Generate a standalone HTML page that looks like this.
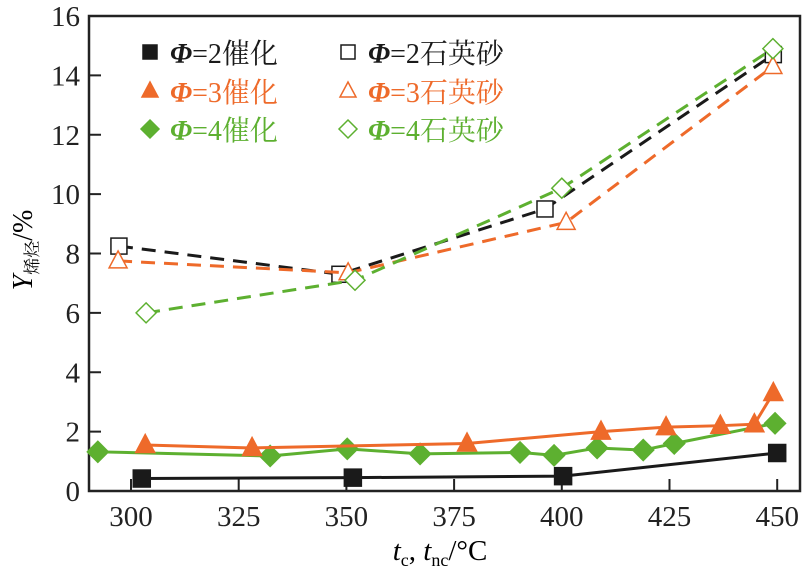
<!DOCTYPE html>
<html><head><meta charset="utf-8"><style>
body{margin:0;background:#fff}
</style></head><body>
<svg id="chart" width="806" height="575" viewBox="0 0 806 575" xmlns="http://www.w3.org/2000/svg" font-family="'Liberation Serif','Noto Serif CJK SC',serif" style="font-family:'Liberation Serif','Noto Serif CJK SC',serif">
<g id="axes"></g>
<g id="series"></g>
<g id="legend"></g>
<text x="32" y="250" font-size="28" text-anchor="middle" transform="rotate(-90 32 250)"><tspan font-style="italic">Y</tspan><tspan font-size="17" dy="6">烯烃</tspan><tspan dy="-6">/%</tspan></text>
<text x="440" y="560" font-size="29" text-anchor="middle"><tspan font-style="italic">t</tspan><tspan font-size="18" dy="6">c</tspan><tspan dy="-6">, </tspan><tspan font-style="italic">t</tspan><tspan font-size="18" dy="6">nc</tspan><tspan dy="-6">/°C</tspan></text>
</svg>
<script>
const xTicks=[300,325,350,375,400,425,450];
const yTicks=[0,2,4,6,8,10,12,14,16];
const cat2X=[302.5,351.5,400.3,450];
const cat2Y=[0.42,0.45,0.5,1.28];
const cat3X=[303.3,328.1,378,409.1,424.2,436.8,444.7,449.1];
const cat3Y=[1.55,1.45,1.6,2.0,2.15,2.2,2.25,3.3];
const cat4X=[292.3,332.3,350.2,367.1,390.3,398.2,408.2,418.9,426.1,449.5];
const cat4Y=[1.32,1.18,1.42,1.25,1.3,1.2,1.45,1.38,1.6,2.28];
const q2X=[297.2,348.5,396.1,449.1];
const q2Y=[8.25,7.3,9.5,14.7];
const q3X=[297,350.4,401,449];
const q3Y=[7.75,7.35,9.05,14.3];
const q4X=[303.5,352,400,449];
const q4Y=[6.0,7.1,10.2,14.9];
const NS="http://www.w3.org/2000/svg";
const X0=89,X1=800,Y0=491,Y1=16;
function sx(v){return 131+(v-300)*107.7/25;}
function sy(v){return Y0-(v/16)*(Y0-Y1);}
function mk(tag,attrs,parent){const e=document.createElementNS(NS,tag);for(const k in attrs)e.setAttribute(k,attrs[k]);parent.appendChild(e);return e;}
const axes=document.getElementById('axes');
const frame=mk('rect',{x:X0,y:Y1,width:X1-X0,height:Y0-Y1,fill:'none',stroke:'#222','stroke-width':2.5},axes);


xTicks.forEach(t=>{
  const l=mk('line',{x1:sx(t),x2:sx(t),y1:Y0,y2:Y0-12,stroke:'#222','stroke-width':2},axes);
  
  
  const tx=mk('text',{x:sx(t),y:Y0+35,'font-size':29,'text-anchor':'middle',fill:'#222'},axes);
  tx.textContent=t;
  
  
});
yTicks.forEach(t=>{
  const l=mk('line',{x1:X0,x2:X0+12,y1:sy(t),y2:sy(t),stroke:'#222','stroke-width':2},axes);
  
  
  const tx=mk('text',{x:X0-9,y:sy(t)+10,'font-size':29,'text-anchor':'end',fill:'#222'},axes);
  tx.textContent=t;
  
  
});
function marker(type,cx,cy,color,filled,parent,s){
  s=s||8;let e;
  const fill=filled?color:'#fff';
  if(type==='sq')e=mk('rect',{x:cx-s,y:cy-s,width:2*s,height:2*s,fill:fill,stroke:color,'stroke-width':1.5},parent);
  else if(type==='tri')e=mk('polygon',{points:`${cx},${cy-s-2} ${cx+s+1},${cy+s-1} ${cx-s-1},${cy+s-1}`,fill:fill,stroke:color,'stroke-width':1.5},parent);
  else e=mk('polygon',{points:`${cx},${cy-s-2} ${cx+s+2},${cy} ${cx},${cy+s+2} ${cx-s-2},${cy}`,fill:fill,stroke:color,'stroke-width':1.5},parent);
  return e;
}
const ser=document.getElementById('series');
function drawSeries(name,xs,ys,color,type,filled,dashed){
  const g=mk('g',{},ser);
  
  
  const p=mk('polyline',{points:xs.map((x,i)=>sx(x)+','+sy(ys[i])).join(' '),fill:'none',stroke:color,'stroke-width':3,'stroke-dasharray':dashed?'14 9':'none'},g);
  
  
  xs.forEach((x,i)=>{
    const m=marker(type,sx(x),sy(ys[i]),color,filled,g,filled?8.5:8);
    
    
  });
}
const K='#1a1a1a',O='#EE6A2A',G='#5DB030';
drawSeries('phi2-quartz',q2X,q2Y,K,'sq',false,true);
drawSeries('phi3-quartz',q3X,q3Y,O,'tri',false,true);
drawSeries('phi4-quartz',q4X,q4Y,G,'dia',false,true);
drawSeries('phi2-catalyst',cat2X,cat2Y,K,'sq',true,false);
drawSeries('phi4-catalyst',cat4X,cat4Y,G,'dia',true,false);
drawSeries('phi3-catalyst',cat3X,cat3Y,O,'tri',true,false);
const leg=document.getElementById('legend');
const entries=[
 [150,53,K,'sq',true,'2催化'],[348,53,K,'sq',false,'2石英砂'],
 [150,92,O,'tri',true,'3催化'],[348,92,O,'tri',false,'3石英砂'],
 [150,130,G,'dia',true,'4催化'],[348,130,G,'dia',false,'4石英砂']];
entries.forEach(e=>{
  const g=mk('g',{},leg);
  
  
  marker(e[3],e[0],e[1]-1,e[2],e[4],g,7);
  const t=mk('text',{x:e[0]+20,y:e[1]+10,'font-size':28,fill:e[2]},g);
  t.innerHTML='<tspan font-style="italic" font-weight="bold">Φ</tspan>='+e[5];
});
</script>
</body></html>
